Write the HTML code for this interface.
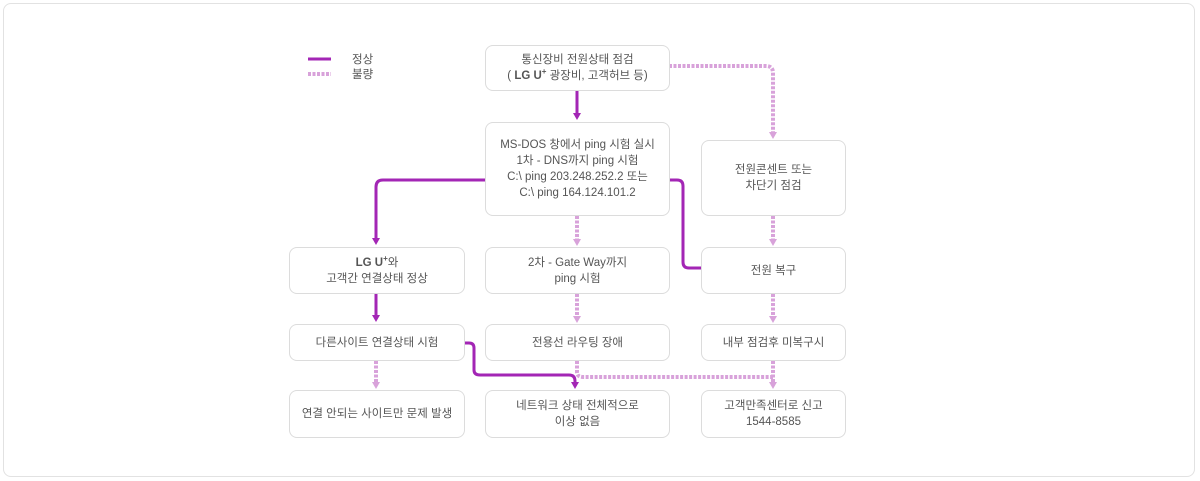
<!DOCTYPE html>
<html><head><meta charset="utf-8"><style>
body{margin:0;width:1200px;height:481px;background:#fff;font-family:"Liberation Sans","Noto Sans CJK KR",sans-serif;position:relative;overflow:hidden}
.card{position:absolute;left:3px;top:3px;width:1192px;height:474px;border:1px solid #e2e2e2;border-radius:8px;box-sizing:border-box}
.b{position:absolute;border:1px solid #dcdcdc;border-radius:8px;box-sizing:border-box;display:flex;align-items:center;justify-content:center;text-align:center;font-size:11.5px;line-height:16px;color:#555;background:#fff}
svg{position:absolute;left:0;top:0}
.lg{position:absolute;font-size:11.5px;color:#555}
sup{font-size:8px;line-height:0}
</style></head><body>
<div class="card"></div>
<svg width="1200" height="481">
<g fill="none" stroke-linejoin="round">
<g stroke="#a326b5" stroke-width="3">
<line x1="308" y1="59" x2="331" y2="59"/>
<path d="M577 91 V114"/>
<path d="M485 180 H383 Q376 180 376 187 V239"/>
<path d="M669 180 H677 Q683 180 683 186 V262 Q683 268 689 268 H701"/>
<path d="M376 294 V316"/>
<path d="M465 343 H469 Q474 343 474 348 V370 Q474 375 480 375 H569 Q575 375 575 381 V383"/>
</g>
<g stroke="#d8a2da" stroke-width="4" stroke-dasharray="3,1.5">
<line x1="308" y1="74" x2="331" y2="74"/>
<path d="M669 66 H766 Q773 66 773 73 V133"/>
<path d="M577 216 V240"/>
<path d="M773 216 V240"/>
<path d="M577 294 V317"/>
<path d="M773 294 V317"/>
<path d="M376 361 V383"/>
<path d="M577 361 V372 Q577 377 583 377 H773"/>
<path d="M773 361 V383"/>
</g>
</g>
<g fill="#a326b5">
<path d="M573 113 L581 113 L577 120 z"/>
<path d="M372 238 L380 238 L376 245 z"/>
<path d="M372 315 L380 315 L376 322 z"/>
<path d="M571 382 L579 382 L575 389 z"/>
</g>
<g fill="#d8a2da">
<path d="M769 132 L777 132 L773 139 z"/>
<path d="M573 239 L581 239 L577 246 z"/>
<path d="M769 239 L777 239 L773 246 z"/>
<path d="M573 316 L581 316 L577 323 z"/>
<path d="M769 316 L777 316 L773 323 z"/>
<path d="M372 382 L380 382 L376 389 z"/>
<path d="M769 382 L777 382 L773 389 z"/>
</g>
</svg>
<div class="lg" style="left:352px;top:51px">정상</div>
<div class="lg" style="left:352px;top:66px">불량</div>
<div class="b" style="left:485px;top:45px;width:185px;height:46px"><span>통신장비 전원상태 점검<br>( <b>LG U<sup>+</sup></b> 광장비, 고객허브 등)</span></div>
<div class="b" style="left:485px;top:122px;width:185px;height:94px"><span>MS-DOS 창에서 ping 시험 실시<br>1차 - DNS까지 ping 시험<br>C:\ ping 203.248.252.2 또는<br>C:\ ping 164.124.101.2</span></div>
<div class="b" style="left:701px;top:140px;width:145px;height:76px"><span>전원콘센트 또는<br>차단기 점검</span></div>
<div class="b" style="left:289px;top:247px;width:176px;height:47px"><span><b>LG U<sup>+</sup></b>와<br>고객간 연결상태 정상</span></div>
<div class="b" style="left:485px;top:247px;width:185px;height:47px"><span>2차 - Gate Way까지<br>ping 시험</span></div>
<div class="b" style="left:701px;top:247px;width:145px;height:47px">전원 복구</div>
<div class="b" style="left:289px;top:324px;width:176px;height:37px">다른사이트 연결상태 시험</div>
<div class="b" style="left:485px;top:324px;width:185px;height:37px">전용선 라우팅 장애</div>
<div class="b" style="left:701px;top:324px;width:145px;height:37px">내부 점검후 미복구시</div>
<div class="b" style="left:289px;top:390px;width:176px;height:48px">연결 안되는 사이트만 문제 발생</div>
<div class="b" style="left:485px;top:390px;width:185px;height:48px"><span>네트워크 상태 전체적으로<br>이상 없음</span></div>
<div class="b" style="left:701px;top:390px;width:145px;height:48px"><span>고객만족센터로 신고<br>1544-8585</span></div>
</body></html>
